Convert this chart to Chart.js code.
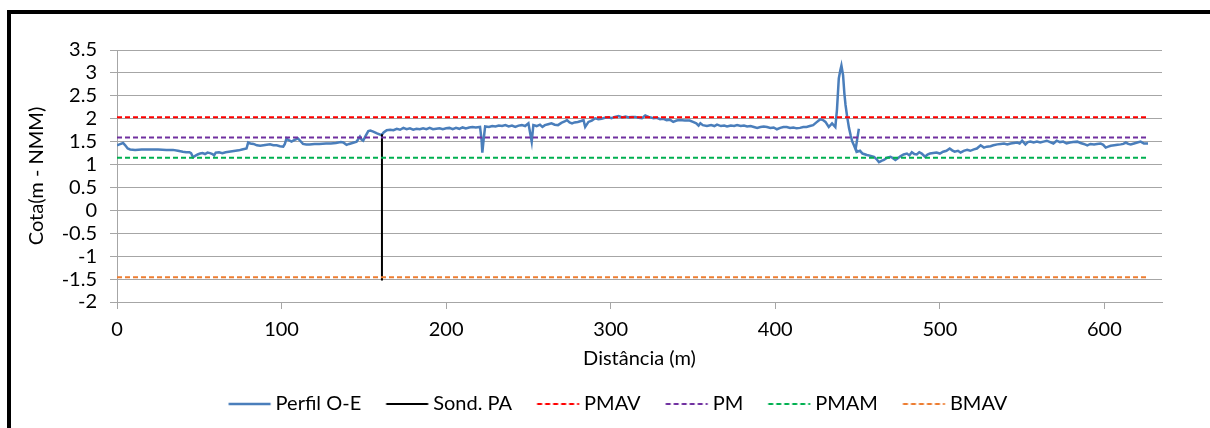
<!DOCTYPE html>
<html><head><meta charset="utf-8">
<script src="https://cdn.jsdelivr.net/npm/chart.js@4.4.1/dist/chart.umd.min.js"></script>
<style>
html,body{margin:0;padding:0;background:#fff;}
#wrap{position:relative;width:1210px;height:428px;overflow:hidden;background:#fff;}
#frame{position:absolute;left:7px;top:10px;width:1220px;height:440px;border-top:4px solid #000;border-left:4px solid #000;}
canvas{position:absolute;left:0;top:0;}
</style></head><body>
<div id="wrap"><div id="frame"></div><canvas id="c" width="1210" height="428" style="width:1210px;height:428px"></canvas></div>
<script>
// ---- data ----
const seriesNames = ["Perfil O-E", "Sond. PA", "PMAV", "PM", "PMAM", "BMAV"];
const xTickValues = [0, 100, 200, 300, 400, 500, 600];
const yTickValues = [-2, -1.5, -1, -0.5, 0, 0.5, 1, 1.5, 2, 2.5, 3, 3.5];

// Perfil O-E : [distância (m), cota (m)] ; null = break in the line
const perfilOE = [
 [0,1.42],[1.5,1.44],[3.7,1.47],[5,1.42],[6.5,1.35],[8,1.33],[11,1.32],[15,1.33],[20,1.33],[25,1.33],[30,1.32],[34,1.32],[37,1.30],[40,1.28],[42,1.27],[44,1.27],[45,1.25],[46.2,1.16],[47.5,1.19],[49,1.22],[50.5,1.24],[52,1.25],[53.5,1.23],[55,1.26],[56.5,1.25],[58,1.23],[59,1.20],[60,1.26],[62,1.27],[64,1.25],[66,1.27],[68,1.28],[70,1.29],[72,1.30],[74,1.31],[76,1.33],[78.7,1.35],[79.7,1.48],[81,1.46],[83,1.45],[85,1.42],[87,1.41],[89,1.42],[91,1.43],[93,1.44],[95,1.42],[97,1.42],[99,1.40],[101,1.39],[102,1.45],[103,1.57],[104,1.54],[106,1.50],[108,1.54],[110,1.57],[111,1.53],[113,1.45],[115,1.44],[117,1.44],[120,1.45],[123,1.45],[127,1.46],[130,1.46],[133,1.47],[136,1.49],[137.5,1.48],[139.5,1.43],[141,1.45],[143,1.47],[145.6,1.50],[147,1.58],[147.6,1.61],[148.5,1.55],[149.6,1.52],[151,1.62],[152.7,1.73],[154,1.74],[155.7,1.72],[158,1.68],[160.8,1.64],
 [162,1.70],[163.9,1.75],[166,1.76],[168,1.75],[170,1.78],[172,1.76],[174,1.80],[176,1.77],[178,1.79],[180,1.76],[182,1.78],[184,1.77],[186,1.79],[188,1.77],[190,1.80],[192,1.77],[194,1.78],[196,1.79],[198,1.77],[200,1.79],[202,1.80],[204,1.77],[206,1.80],[208,1.78],[210,1.81],[212,1.79],[214,1.81],[216,1.82],[218,1.81],[220.6,1.82],[221.5,1.55],[222,1.26],[222.8,1.55],[223.7,1.83],[226,1.82],[228,1.84],[230,1.83],[232,1.85],[234,1.84],[236,1.86],[238,1.83],[240,1.85],[242,1.82],[244,1.85],[246,1.86],[248,1.84],[250,1.90],[251,1.70],[252,1.50],[253,1.86],[255,1.84],[257,1.87],[258.5,1.82],[260,1.86],[262,1.88],[264,1.90],[266,1.87],[268,1.86],[270,1.91],[272,1.94],[273.4,1.97],[275,1.92],[276.5,1.90],[278,1.92],[280,1.93],[282,1.95],[283.5,1.97],[284.5,1.82],[286.5,1.93],[288.5,1.96],[290.6,2.01],[292.5,1.99],[294.5,2.00],[296.5,2.02],[298.7,2.03],[300.5,2.01],[302.5,2.04],[304.8,2.06],[307,2.03],[309,2.05],[311,2.03],[313,2.04],[315,2.04],[317,2.02],[319,2.01],[321,2.07],[323,2.04],[326,2.01],[328,2.02],[330,1.99],[332,2.00],[334,1.97],[336,1.98],[338,1.93],[340,1.96],[342,1.97],[345,1.96],[348,1.96],[350,1.93],[352,1.90],[353.4,1.85],[354.5,1.90],[356,1.86],[358.5,1.84],[361,1.86],[363,1.84],[364.6,1.87],[367,1.84],[369,1.85],[370.7,1.83],[373,1.85],[375,1.84],[376.8,1.86],[379,1.84],[381,1.85],[382.9,1.83],[385,1.84],[387,1.82],[389,1.80],[391,1.82],[393,1.83],[395,1.82],[397,1.80],[399,1.81],[401,1.77],[403,1.80],[405,1.82],[407,1.82],[409,1.80],[411,1.81],[413,1.79],[415,1.80],[417,1.82],[419,1.82],[421,1.84],[423,1.86],[425,1.92],[427.4,1.99],[429,1.97],[430.5,1.93],[432.5,1.82],[434.5,1.90],[436.5,1.82],[437.5,2.20],[438.6,2.88],[439.5,3.05],[440.2,3.16],[441.2,2.95],[442,2.55],[442.7,2.30],[443.7,2.04],[444.8,1.80],[445.8,1.64],[446.8,1.50],[447.8,1.42],[448.8,1.33],[450.8,1.78],
 [450.8,null],
 [448.8,1.35],[449.8,1.28],[451.5,1.30],[453,1.24],[455.7,1.21],[458,1.19],[460,1.17],[461.5,1.12],[463,1.05],[464.5,1.08],[466,1.10],[468,1.15],[470,1.17],[471.5,1.14],[473,1.10],[474.5,1.14],[476,1.18],[478,1.22],[480,1.24],[481.5,1.20],[483,1.27],[484.5,1.23],[486,1.22],[487.5,1.27],[489,1.24],[491,1.17],[492.5,1.22],[494,1.24],[496,1.25],[498,1.26],[500,1.24],[502,1.28],[504,1.30],[506,1.35],[507.5,1.31],[509,1.28],[511,1.30],[512.6,1.26],[514.5,1.30],[516.6,1.32],[518.5,1.30],[520.7,1.33],[522.5,1.35],[524.8,1.42],[526.8,1.37],[528.5,1.39],[530.8,1.40],[532.5,1.42],[534.9,1.44],[537,1.45],[539,1.46],[541,1.44],[543,1.46],[545,1.47],[547,1.48],[548.5,1.46],[550,1.52],[552,1.44],[553.5,1.49],[555,1.50],[557,1.48],[559,1.50],[561,1.48],[563,1.50],[565,1.52],[567,1.49],[569,1.46],[571,1.52],[573,1.49],[575,1.50],[577,1.46],[579,1.48],[581,1.49],[583.5,1.50],[585.5,1.47],[587.5,1.45],[589.6,1.42],[591.5,1.45],[593.7,1.44],[595.5,1.45],[597.7,1.46],[599.3,1.43],[600.8,1.37],[602.3,1.39],[603.8,1.41],[606,1.42],[608,1.43],[609.9,1.44],[611.5,1.45],[613,1.48],[614.5,1.45],[616,1.44],[618,1.46],[620,1.48],[622,1.50],[624,1.46],[626.5,1.46]
];

// Sond. PA : vertical line
const sondX = [161, 161];
const sondY = [1.66, -1.53];

// Reference levels (m)
const levelRange = [0, 626.8];
const levelPMAV = 2.03;
const levelPM = 1.59;
const levelPMAM = 1.15;
const levelBMAV = -1.46;

// ---- chart ----
const FONT = "Lato, 'Open Sans', sans-serif";
const seriesColors = ["#4A7EBB", "#000000", "#FF0000", "#7030A0", "#00B050", "#ED7D31"];
const seriesDash = [[], [], [5, 3], [5, 3], [5, 3], [5, 3]];
const seriesWidth = [2.5, 2, 2, 2, 2, 2];

function pts(xs, ys) { return xs.map((x, i) => ({x: x, y: ys[i]})); }
const levelData = [levelPMAV, levelPM, levelPMAM, levelBMAV].map(v => pts(levelRange, [v, v]));
const allData = [
  perfilOE.map(p => ({x: p[0], y: p[1]})),
  pts(sondX, sondY),
  ...levelData
];

const datasets = seriesNames.map((name, i) => ({
  label: name,
  data: allData[i],
  showLine: true,
  borderColor: seriesColors[i],
  backgroundColor: seriesColors[i],
  borderWidth: seriesWidth[i],
  borderDash: seriesDash[i],
  pointRadius: 0,
  pointHoverRadius: 0,
  tension: 0,
  spanGaps: false,
  order: 10 - i
}));

// legend line samples: 42px line, image centred so that the line starts at the item's left edge
const LEG_BOX = 37;
function legendSample(i) {
  const c = document.createElement('canvas');
  c.width = 84; c.height = 8;
  const g = c.getContext('2d');
  g.strokeStyle = seriesColors[i];
  g.lineWidth = seriesWidth[i];
  g.setLineDash(seriesDash[i]);
  g.beginPath();
  const x0 = 42 - LEG_BOX / 2;
  g.moveTo(x0, 4); g.lineTo(x0 + 42, 4);
  g.stroke();
  return c;
}
const legendImages = seriesNames.map((_, i) => legendSample(i));

const legendShift = {
  id: 'legendShift',
  afterLayout(chart) {
    const l = chart.legend;
    if (l) { l.left += 37; l.right += 37; }
  }
};

Chart.defaults.font.family = FONT;
Chart.defaults.color = "#000";

new Chart(document.getElementById('c'), {
  type: 'scatter',
  data: { datasets: datasets },
  plugins: [legendShift],
  options: {
    responsive: false,
    animation: false,
    layout: { padding: { left: 0, right: 48, top: 50, bottom: 4 } },
    plugins: {
      tooltip: { enabled: false },
      legend: {
        position: 'bottom',
        labels: {
          font: { size: 20, family: FONT },
          color: '#000',
          padding: 25,
          usePointStyle: true,
          pointStyleWidth: LEG_BOX,
          generateLabels(chart) {
            return chart.data.datasets.map((ds, i) => ({
              text: ds.label,
              strokeStyle: ds.borderColor,
              fillStyle: ds.borderColor,
              lineWidth: ds.borderWidth,
              lineDash: ds.borderDash,
              pointStyle: legendImages[i],
              hidden: false,
              datasetIndex: i,
              fontColor: '#000'
            }));
          }
        }
      }
    },
    scales: {
      x: {
        type: 'linear',
        min: 0, max: 635,
        afterBuildTicks(s) { s.ticks = xTickValues.map(v => ({value: v})); },
        ticks: { font: { size: 20 }, color: '#000', padding: 9, autoSkip: false, maxRotation: 0 },
        grid: { drawOnChartArea: false, drawTicks: true, tickLength: 7, color: '#a6a6a6', lineWidth: 1 },
        border: { display: true, color: '#a6a6a6', width: 1 },
        title: { display: true, text: 'Distância (m)', font: { size: 20 }, color: '#000', padding: { top: -4, bottom: -2 } }
      },
      y: {
        type: 'linear',
        min: -2, max: 3.5,
        afterBuildTicks(s) { s.ticks = yTickValues.map(v => ({value: v})); },
        afterFit(s) { s.width = 117; },
        ticks: { font: { size: 20 }, color: '#000', padding: 13, autoSkip: false,
                 callback: v => String(v) },
        grid: { drawOnChartArea: true, drawTicks: true, tickLength: 7, color: '#a6a6a6', lineWidth: 1 },
        border: { display: true, color: '#a6a6a6', width: 1 },
        title: { display: true, text: 'Cota(m - NMM)', font: { size: 20 }, color: '#000', padding: { top: 25, bottom: 0 } }
      }
    }
  }
});
</script>
</body></html>
